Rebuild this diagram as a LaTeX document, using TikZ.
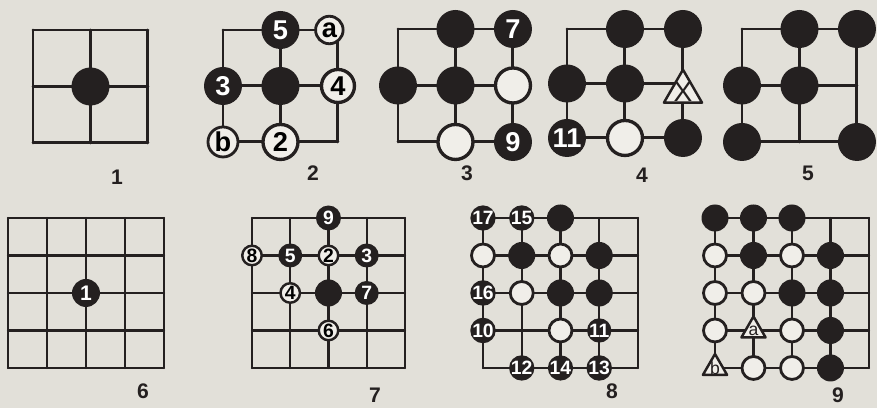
\documentclass[tikz,border=0pt]{standalone}
\usepackage{fontspec}
\setmainfont{Liberation Sans}
\usetikzlibrary{shapes.geometric}
\definecolor{paper}{RGB}{226,224,217}
\definecolor{ink}{RGB}{36,32,32}
\definecolor{shell}{RGB}{240,238,233}

\begin{document}
\begin{tikzpicture}[x=0.02cm, y=-0.02cm, line cap=round, line join=round,
    board/.style={draw=ink, line width=1.7pt},
    fineboard/.style={draw=ink, line width=1.3pt},
    stone/.style={circle, inner sep=0pt, font=\bfseries},
    blackbig/.style={stone, fill=ink, text=white, minimum size=0.76cm,
                     font=\fontsize{15.5}{15.5}\selectfont\bfseries},
    whitebig/.style={stone, fill=shell, draw=ink, line width=1.9pt,
                     minimum size=0.7cm, font=\fontsize{15.5}{15.5}\selectfont\bfseries},
    whiteletter/.style={whitebig, minimum size=0.55cm, line width=1.6pt},
    blacksmall/.style={stone, fill=ink, minimum size=0.54cm},
    whitesmall/.style={stone, fill=shell, draw=ink, line width=1.6pt,
                       minimum size=0.46cm},
    blacknum/.style={stone, fill=ink, text=white, minimum size=0.48cm,
                     font=\fontsize{11}{11}\selectfont\bfseries},
    whitenum/.style={stone, fill=shell, draw=ink, line width=1.4pt,
                     minimum size=0.39cm, font=\fontsize{11}{11}\selectfont\bfseries},
    tristone/.style={regular polygon, regular polygon sides=3, draw=ink,
                     fill=shell, line width=1.4pt, inner sep=0pt},
    diagnum/.style={font=\fontsize{12}{12}\selectfont\bfseries, text=ink}]
  % page
  \fill[paper] (0,0) rectangle (877,408);
  \useasboundingbox (0,0) rectangle (877,408);

  % diagram 1
  \begin{scope}[shift={(33,30)}, x=1.15cm, y=-1.13cm]
    \foreach \k in {0,1,2} {
      \draw[board] (\k,0) -- (\k,2);
      \draw[board] (0,\k) -- (2,\k);
    }
    \node[blackbig] (d1c) at (1,1) {};
  \end{scope}

  % diagram 2
  \begin{scope}[shift={(223,30)}, x=1.15cm, y=-1.12cm]
    \foreach \k in {0,1,2} {
      \draw[board] (\k,0) -- (\k,2);
      \draw[board] (0,\k) -- (2,\k);
    }
    \node[blackbig] (d2five) at (1,0) {5};
    \node[whiteletter] (d2a) at (1.85,0) {a};
    \node[blackbig] (d2three) at (0,1) {3};
    \node[blackbig] (d2c) at (1,1) {};
    \node[whitebig, minimum size=0.66cm] (d2four) at (2,1) {4};
    \node[whiteletter, minimum size=0.6cm] (d2b) at (0,2) {b};
    \node[whitebig] (d2two) at (1,2) {2};
  \end{scope}

  % diagram 3
  \begin{scope}[shift={(398,29)}, x=1.15cm, y=-1.13cm]
    \foreach \k in {0,1,2} {
      \draw[board] (\k,0) -- (\k,2);
      \draw[board] (0,\k) -- (2,\k);
    }
    \node[blackbig] (d3t) at (1,0) {};
    \node[blackbig] (d3seven) at (2,0) {7};
    \node[blackbig] (d3l) at (0,1) {};
    \node[blackbig] (d3c) at (1,1) {};
    \node[whitebig] (d3r) at (2,1) {};
    \node[whitebig] (d3b) at (1,2) {};
    \node[blackbig] (d3nine) at (2,2) {9};
  \end{scope}

  % diagram 4
  \begin{scope}[shift={(567,29)}, x=1.16cm, y=-1.09cm]
    \foreach \k in {0,1,2} {
      \draw[board] (\k,0) -- (\k,2);
      \draw[board] (0,\k) -- (2,\k);
    }
    \node[blackbig] (d4t) at (1,0) {};
    \node[blackbig] (d4tr) at (2,0) {};
    \node[blackbig] (d4l) at (0,1) {};
    \node[blackbig] (d4c) at (1,1) {};
    \node[tristone, minimum size=0.88cm] (d4x) at (2,1.15) {};
    \node[font=\fontsize{16}{16}\selectfont, text=ink] (d4xl) at (d4x.center) {X};
    \node[blackbig] (d4eleven) at (0,2) {11};
    \node[whitebig] (d4b) at (1,2) {};
    \node[blackbig] (d4br) at (2,2) {};
  \end{scope}

  % diagram 5
  \begin{scope}[shift={(742,29)}, x=1.15cm, y=-1.13cm]
    \foreach \k in {0,1,2} {
      \draw[board] (\k,0) -- (\k,2);
      \draw[board] (0,\k) -- (2,\k);
    }
    \node[blackbig] (d5t) at (1,0) {};
    \node[blackbig] (d5tr) at (2,0) {};
    \node[blackbig] (d5l) at (0,1) {};
    \node[blackbig] (d5c) at (1,1) {};
    \node[blackbig] (d5bl) at (0,2) {};
    \node[blackbig] (d5br) at (2,2) {};
  \end{scope}

  % diagram 6
  \begin{scope}[shift={(8,218)}, x=0.78cm, y=-0.75cm]
    \foreach \k in {0,...,4} {
      \draw[fineboard] (\k,0) -- (\k,4);
      \draw[fineboard] (0,\k) -- (4,\k);
    }
    \node[blacknum, minimum size=0.56cm, font=\fontsize{12}{12}\selectfont\bfseries]
      (d6one) at (2,2) {1};
  \end{scope}

  % diagram 7
  \begin{scope}[shift={(252,218)}, x=0.765cm, y=-0.75cm]
    \foreach \k in {0,...,4} {
      \draw[fineboard] (\k,0) -- (\k,4);
      \draw[fineboard] (0,\k) -- (4,\k);
    }
    \node[blacknum, minimum size=0.5cm] (d7nine) at (2,0) {9};
    \node[whitenum] (d7eight) at (0,1) {8};
    \node[blacknum] (d7five) at (1,1) {5};
    \node[whitenum] (d7two) at (2,1) {2};
    \node[blacknum] (d7three) at (3,1) {3};
    \node[whitenum] (d7four) at (1,2) {4};
    \node[blacksmall] (d7c) at (2,2) {};
    \node[blacknum] (d7seven) at (3,2) {7};
    \node[whitenum] (d7six) at (2,3) {6};
  \end{scope}

  % diagram 8
  \begin{scope}[shift={(483,218)}, x=0.775cm, y=-0.75cm]
    \foreach \k in {0,...,4} {
      \draw[fineboard] (\k,0) -- (\k,4);
      \draw[fineboard] (0,\k) -- (4,\k);
    }
    \node[blacknum] (d8n17) at (0,0) {17};
    \node[blacknum] (d8n15) at (1,0) {15};
    \node[blacksmall] (d8a) at (2,0) {};
    \node[whitesmall] (d8b) at (0,1) {};
    \node[blacksmall] (d8c) at (1,1) {};
    \node[whitesmall] (d8d) at (2,1) {};
    \node[blacksmall] (d8e) at (3,1) {};
    \node[blacknum] (d8n16) at (0,2) {16};
    \node[whitesmall] (d8f) at (1,2) {};
    \node[blacksmall] (d8g) at (2,2) {};
    \node[blacksmall] (d8h) at (3,2) {};
    \node[blacknum] (d8n10) at (0,3) {10};
    \node[whitesmall] (d8i) at (2,3) {};
    \node[blacknum] (d8n11) at (3,3) {11};
    \node[blacknum] (d8n12) at (1,4) {12};
    \node[blacknum] (d8n14) at (2,4) {14};
    \node[blacknum] (d8n13) at (3,4) {13};
  \end{scope}

  % diagram 9
  \begin{scope}[shift={(715,218)}, x=0.77cm, y=-0.75cm]
    \foreach \k in {0,...,4} {
      \draw[fineboard] (\k,0) -- (\k,4);
      \draw[fineboard] (0,\k) -- (4,\k);
    }
    \foreach \c/\r in {0/0, 1/0, 2/0, 1/1, 3/1, 2/2, 3/2, 3/3, 3/4}
      \node[blacksmall] (d9b\c\r) at (\c,\r) {};
    \foreach \c/\r in {0/1, 2/1, 0/2, 1/2, 0/3, 2/3, 1/4, 2/4}
      \node[whitesmall] (d9w\c\r) at (\c,\r) {};
    \node[tristone, minimum size=0.56cm] (d9a) at (1,3) {};
    \node[font=\fontsize{10}{10}\selectfont, text=ink] (d9al) at (d9a.center) {a};
    \node[tristone, minimum size=0.56cm] (d9b) at (0,4) {};
    \node[font=\fontsize{10}{10}\selectfont, text=ink] (d9bl) at (d9b.center) {b};
  \end{scope}

  % numbers under the boards
  \node[diagnum] (cap1) at (117,177) {1};
  \node[diagnum] (cap2) at (313,173) {2};
  \node[diagnum] (cap3) at (467,173) {3};
  \node[diagnum] (cap4) at (642,175) {4};
  \node[diagnum] (cap5) at (808,173) {5};
  \node[diagnum] (cap6) at (143,391) {6};
  \node[diagnum] (cap7) at (375,395) {7};
  \node[diagnum] (cap8) at (612,391) {8};
  \node[diagnum] (cap9) at (838,395) {9};
\end{tikzpicture}
\end{document}
